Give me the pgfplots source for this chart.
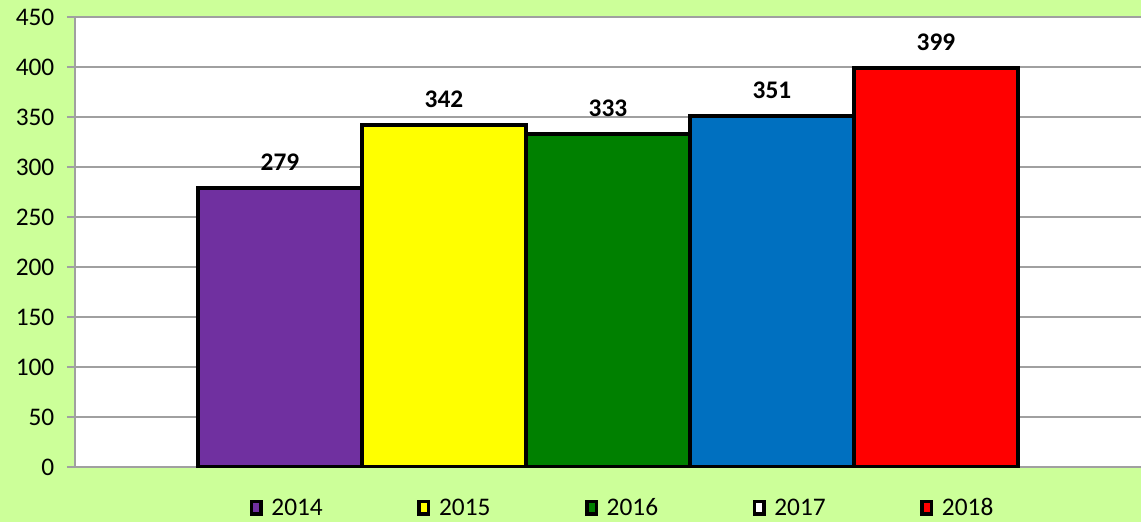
\documentclass[border=0pt]{standalone}
\usepackage{pgfplots}
\pgfplotsset{compat=1.18}
\usepackage{fontspec}
\setmainfont{Carlito}
\definecolor{bg}{HTML}{CCFF99}
\definecolor{c14}{HTML}{7030A0}
\definecolor{c15}{HTML}{FFFF00}
\definecolor{c16}{HTML}{008000}
\definecolor{c17}{HTML}{0070C0}
\definecolor{c18}{HTML}{FF0000}
\definecolor{gridc}{HTML}{A0A0A0}
\begin{document}
\begin{tikzpicture}
\fill[bg] (-56.25pt,-41.25pt) rectangle (799.5pt,350.25pt);
\path[use as bounding box] (-56.25pt,-41.25pt) rectangle (799.5pt,350.25pt);
\begin{axis}[
  at={(0pt,0pt)}, anchor=south west,
  scale only axis, width=799.5pt, height=337.5pt,
  xmin=-1.25, xmax=5.25, ymin=0, ymax=450,
  ytick={0,50,...,450}, xtick=\empty,
  axis x line*=bottom, axis y line*=left,
  axis line style={-, draw=gridc, line width=1pt},
  ymajorgrids, grid style={draw=gridc, line width=1pt},
  tick align=outside, major tick length=6pt,
  ytick style={draw=gridc, line width=1pt},
  axis background/.style={fill=white},
  /pgf/number format/assume math mode=true,
  yticklabel style={font=\fontsize{19}{22}\selectfont, xshift=-6pt},
  nodes near coords,
  every node near coord/.append style={font=\bfseries\fontsize{19}{22}\selectfont, anchor=center, yshift=19.5pt},
  legend columns=5,
  legend style={draw=none, fill=none, at={(0.514,-0.091)}, anchor=center,
    font=\fontsize{19}{22}\selectfont,
    /tikz/every odd column/.append style={column sep=4.5pt},
    /tikz/every even column/.append style={column sep=69pt}},
  legend image code/.code={\draw[#1, draw=black, line width=2.6pt] (0pt,-4.7pt) rectangle (7.1pt,4.7pt);},
]
\addplot[ybar, bar width=1, bar shift=0pt, fill=c14, draw=black, line width=3pt, forget plot] coordinates {(0,279)};
\addplot[ybar, bar width=1, bar shift=0pt, fill=c15, draw=black, line width=3pt, forget plot] coordinates {(1,342)};
\addplot[ybar, bar width=1, bar shift=0pt, fill=c16, draw=black, line width=3pt, forget plot] coordinates {(2,333)};
\addplot[ybar, bar width=1, bar shift=0pt, fill=c17, draw=black, line width=3pt, forget plot] coordinates {(3,351)};
\addplot[ybar, bar width=1, bar shift=0pt, fill=c18, draw=black, line width=3pt, forget plot] coordinates {(4,399)};
\addlegendimage{fill=c14}
\addlegendimage{fill=c15}
\addlegendimage{fill=c16}
\addlegendimage{fill=white}
\addlegendimage{fill=c18}
\legend{2014,2015,2016,2017,2018}
\end{axis}
\end{tikzpicture}
\end{document}
